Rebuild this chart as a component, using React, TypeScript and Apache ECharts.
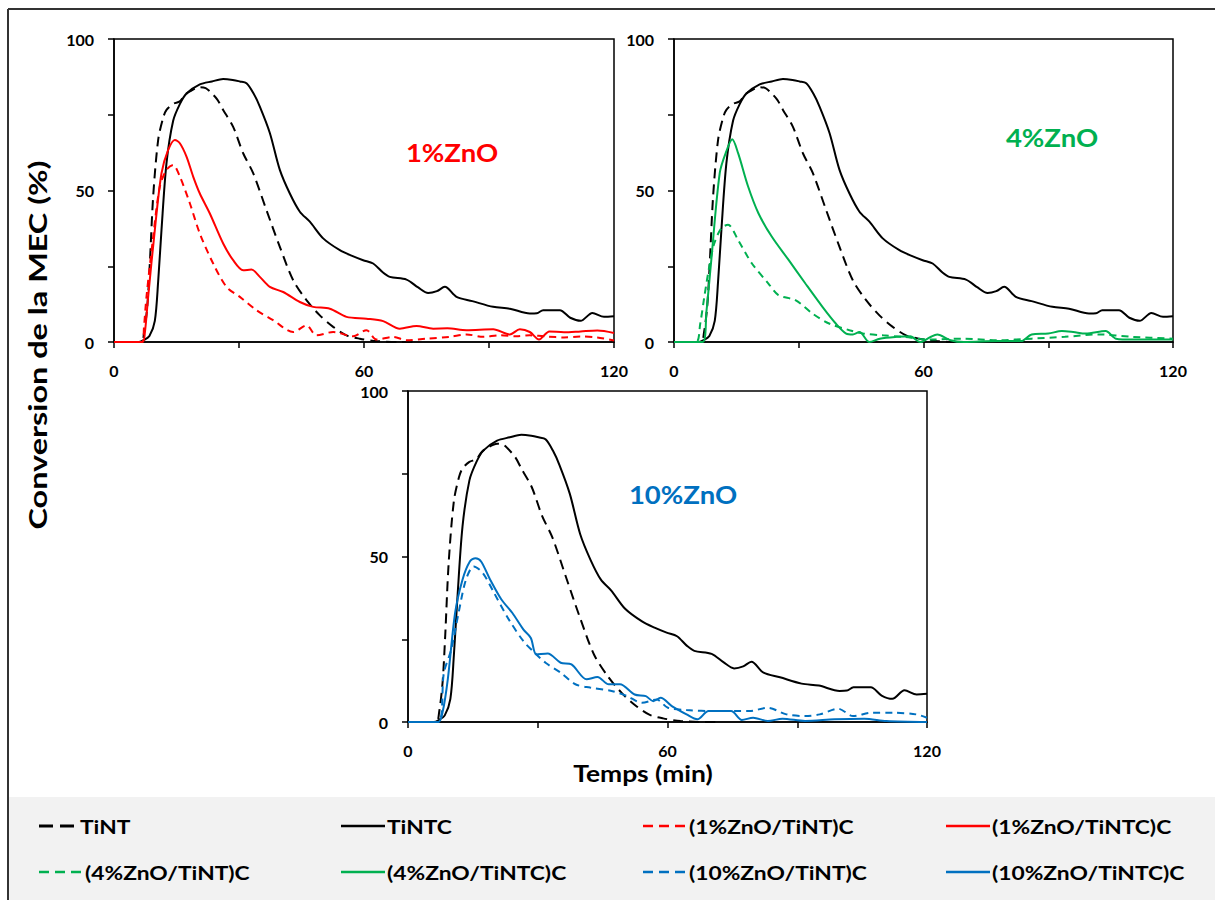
import React, { useEffect, useRef } from "react";
import * as echarts from "echarts";

type Pt = [number, number];

// Time (min) vs conversion (%)
const TINT: Pt[] = [[0,0],[6.5,0],[7.2,3],[8,12],[8.6,26],[9.4,48],[10.6,66.7],[11.8,74],[12.6,76.6],[14.2,78.6],[15.8,79.4],[17,81.5],[18.2,82.7],[20.6,84.1],[22,83.8],[23,82.7],[24.8,80],[26.2,76.6],[28.6,71],[31,62.3],[33.4,55.7],[36.6,43.5],[39.8,31.4],[43,20.4],[46.2,13.8],[49.4,8.8],[52.6,5],[55.8,2.2],[59,1.1],[63,0.3],[68.6,0],[72,0]];
const TINTC: Pt[] = [[0,0],[6,0],[7,0.5],[8.5,2],[9.8,7],[10.6,20],[11.4,37],[12.6,59],[14.2,73],[15.8,78.5],[17.4,82],[20.6,85],[23.5,86],[26.2,86.8],[28.5,86.5],[30.2,86],[31.8,85.4],[33.5,82],[35,77.7],[37.4,69],[39.8,56.8],[42.2,49],[44.6,43],[47,39.7],[50.2,34.2],[54.2,30.3],[57,28.5],[59.8,27],[62.2,25.9],[64.5,23],[66.2,21.5],[70.2,20.6],[73,18],[75.4,16.2],[77.5,16.8],[79.4,18.2],[82.2,14.9],[86,13.5],[91,11.6],[95,11],[99.8,9.4],[101.5,9.5],[103,10.5],[107,10.5],[109.5,8],[112,7],[114.8,9.6],[117.6,8.3],[120,8.5]];
const ZNO1_TINT: Pt[] = [[0,0],[6.8,0],[7.2,5],[7.8,15],[9.4,34.7],[11,51.3],[12.6,56.8],[14.2,58.4],[15.8,54.6],[18.2,45.8],[20.6,35.8],[23.8,25.9],[27,18.2],[30.2,14.9],[34.2,10.5],[38.2,7.2],[43,3.3],[46.2,5.5],[48.6,2.2],[52.6,3.3],[57.4,1.9],[60.6,3.9],[63,0.8],[67,1.7],[70.2,0.6],[75,1.1],[80.6,1.7],[84.6,2.5],[88.6,1.7],[92.6,2.2],[96.6,1.9],[99.8,2.2],[104,1.8],[108,1.5],[112,1.8],[116,1.5],[120,0.5]];
const ZNO1_TINTC: Pt[] = [[0,0],[6.8,0],[7.4,3],[8.2,15],[9.8,37],[11.4,55.7],[13,63.4],[14.6,66.7],[15.8,65.6],[17.4,61.2],[19,54.6],[20.6,49],[23,42.4],[26.2,32.5],[28.6,27],[31,23.7],[33,23.9],[35,21.5],[37.4,18.2],[40.6,16.5],[44.6,13.2],[47.8,11.6],[51.8,11],[55.8,8.3],[60.6,7.7],[64.6,6.9],[68.6,4.4],[72.6,5.3],[76.6,4.4],[80,4.5],[84.6,3.9],[91,4.2],[95,2.5],[97.4,4.2],[99.8,3.3],[102,0.8],[104.5,3.5],[108,3.2],[112,3.5],[116,3.8],[120,3]];
const ZNO4_TINT: Pt[] = [[0,0],[5.3,0],[6.3,6],[7.3,15],[8.5,25],[9.7,32.6],[11.4,37.6],[13,38.7],[15.4,33.7],[18.7,26],[22.7,19.3],[25.1,15.5],[29.2,13.8],[33.3,9.4],[37.3,6.1],[42.2,3.9],[45.4,2.8],[50.3,2.2],[55.1,1.7],[61.6,0.8],[69.7,1.1],[77.9,0.6],[86,1.1],[94,1.7],[102,2.5],[110.3,1.7],[120,1.1]];
const ZNO4_TINTC: Pt[] = [[0,0],[6.9,0],[7.8,10],[8.9,26],[11,55.8],[12.6,63],[14,66.9],[15.4,62.4],[17.8,51.4],[20.3,42.5],[23.5,34.8],[27.6,27],[31.6,19.3],[35.7,11.6],[38.9,6.1],[41.4,2.8],[43,2.5],[44.6,3.3],[47,0],[49.5,1.1],[53.5,1.7],[56.8,1.9],[59.2,0],[61.5,1.5],[63.3,2.5],[66.5,0.6],[69.7,0],[77.9,0.3],[83.5,0.3],[86,2.5],[90,2.8],[93.3,3.6],[96,3.3],[99,2.8],[103.8,3.6],[106.3,1.1],[110.3,0.8],[120,0.8]];
const ZNO10_TINT: Pt[] = [[0,0],[7,0],[8.3,14.9],[10,21.9],[11.7,33],[13.4,43],[15.2,47],[17.3,45],[19.9,39],[23.3,31],[26.7,24.4],[29.3,20.9],[31.8,17.9],[35.3,14.9],[38.7,11.4],[42.1,10.4],[47.3,9.3],[50.7,7.8],[54.1,5.8],[57.5,6.8],[60.1,4.3],[64.4,3.6],[71.2,3.3],[78.9,3.3],[83.2,4.3],[87.5,2.3],[91.8,1.8],[95.2,2.3],[99.5,4],[102.9,1.8],[107.2,2.8],[112.3,2.8],[117.5,2.3],[120,1.3]];
const ZNO10_TINTC: Pt[] = [[0,0],[7,0],[8,3],[9.2,12.9],[10.9,33],[12.6,43],[14.3,48.5],[15.6,49.5],[16.9,48.5],[19,43],[21.6,37],[24.1,33],[26.7,27.9],[28.4,25.4],[29.7,20.4],[32.3,20.7],[35.3,17.9],[37.8,17.4],[41.3,12.9],[43.8,13.6],[46.4,11.4],[49,11.4],[52.4,8.3],[55,7.8],[56.7,6.3],[58.4,7.3],[61,4.8],[64.4,2.3],[66.9,0.8],[69.5,3.3],[74.7,3.3],[77.2,0.6],[79.8,1.3],[83.2,0.3],[86.6,1],[91.8,0.3],[98.6,0.8],[105.5,1],[110.6,0.3],[120,0]];

const PANEL_LABELS = ["1%ZnO", "4%ZnO", "10%ZnO"];
const PANEL_COLORS = ["#ff0000", "#00b050", "#0070c0"];
const DASHED_NAMES = ["(1%ZnO/TiNT)C", "(4%ZnO/TiNT)C", "(10%ZnO/TiNT)C"];
const SOLID_NAMES = ["(1%ZnO/TiNTC)C", "(4%ZnO/TiNTC)C", "(10%ZnO/TiNTC)C"];
const DASHED_DATA = [ZNO1_TINT, ZNO4_TINT, ZNO10_TINT];
const SOLID_DATA = [ZNO1_TINTC, ZNO4_TINTC, ZNO10_TINTC];
const X_TICKS_SHOWN = [0, 60, 120];
const Y_TICKS_SHOWN = [0, 50, 100];
const Y_TITLE = "Conversion de la MEC (%)";
const X_TITLE = "Temps (min)";

const FONT = "Lato, 'Open Sans', sans-serif";

export default function App() {
  const ref = useRef<HTMLDivElement>(null);
  useEffect(() => {
    if (!ref.current) return;
    const chart = echarts.init(ref.current, null, { renderer: "svg" });

    const grids = [
      { left: 114, top: 39, width: 500, height: 303 },
      { left: 674, top: 39, width: 499, height: 303 },
      { left: 408, top: 391, width: 519, height: 331 },
    ];

    const axisCommon = {
      axisLine: { show: true, lineStyle: { color: "#000", width: 1.5 } },
      axisTick: { show: true, inside: false, length: 6, lineStyle: { color: "#000", width: 1.5 } },
      splitLine: { show: false },
    };

    const xAxes = grids.map((_, i) => ({
      type: "value",
      gridIndex: i,
      min: 0,
      max: 120,
      interval: 30,
      ...axisCommon,
      axisLabel: {
        margin: 20,
        fontFamily: FONT,
        fontWeight: "bold",
        fontSize: 16,
        color: "#000",
        formatter: (v: number) => (X_TICKS_SHOWN.includes(v) ? String(v) : ""),
      },
    }));

    const yAxes = grids.map((_, i) => ({
      type: "value",
      gridIndex: i,
      min: 0,
      max: 100,
      interval: 25,
      ...axisCommon,
      axisLabel: {
        margin: 20,
        fontFamily: FONT,
        fontWeight: "bold",
        fontSize: 16,
        color: "#000",
        formatter: (v: number) => (Y_TICKS_SHOWN.includes(v) ? String(v) : ""),
      },
    }));

    const series: any[] = [];
    for (let i = 0; i < 3; i++) {
      const common = {
        type: "line",
        xAxisIndex: i,
        yAxisIndex: i,
        showSymbol: false,
        symbol: "none",
        smooth: 0.3,
      };
      series.push({ ...common, name: "TiNT", data: TINT, color: "#000", lineStyle: { color: "#000", width: 2, type: [10, 6] } });
      series.push({ ...common, name: "TiNTC", data: TINTC, color: "#000", lineStyle: { color: "#000", width: 2, type: "solid" } });
      series.push({ ...common, name: DASHED_NAMES[i], data: DASHED_DATA[i], color: PANEL_COLORS[i], lineStyle: { color: PANEL_COLORS[i], width: 2, type: [7, 5] } });
      series.push({ ...common, name: SOLID_NAMES[i], data: SOLID_DATA[i], color: PANEL_COLORS[i], lineStyle: { color: PANEL_COLORS[i], width: 2, type: "solid" } });
    }

    // legend (drawn manually to match the original layout)
    const legendItems = [
      { name: "TiNT", color: "#000", dash: [14, 7] as number[] | null },
      { name: "TiNTC", color: "#000", dash: null },
      { name: DASHED_NAMES[0], color: PANEL_COLORS[0], dash: [10, 6] },
      { name: SOLID_NAMES[0], color: PANEL_COLORS[0], dash: null },
      { name: DASHED_NAMES[1], color: PANEL_COLORS[1], dash: [10, 6] },
      { name: SOLID_NAMES[1], color: PANEL_COLORS[1], dash: null },
      { name: DASHED_NAMES[2], color: PANEL_COLORS[2], dash: [10, 6] },
      { name: SOLID_NAMES[2], color: PANEL_COLORS[2], dash: null },
    ];
    const legendCols = [39, 341, 643, 946];
    const legendRows = [826, 872];
    const legendGraphics: any[] = [];
    legendItems.forEach((it, k) => {
      const r = Math.floor(k / 4);
      const c = k % 4;
      const x0 = legendCols[c];
      const y0 = legendRows[r];
      const w = k === 0 ? 35 : 44;
      legendGraphics.push({
        type: "line",
        silent: true,
        shape: { x1: x0, y1: y0, x2: x0 + w, y2: y0 },
        style: { stroke: it.color, lineWidth: k === 0 ? 3 : 2.5, lineDash: it.dash || undefined },
      });
      legendGraphics.push({
        type: "text",
        x: x0 + w + (k === 0 ? 6 : 2),
        y: y0,
        scaleX: 1.2,
        style: {
          text: it.name,
          fill: "#000",
          font: `bold 19px ${FONT}`,
          align: "left",
          verticalAlign: "middle",
        },
      });
    });

    const annPos = [
      [452, 152],
      [1052, 137],
      [683, 494],
    ];

    chart.setOption({
      animation: false,
      backgroundColor: "#fff",
      grid: grids.map((g) => ({ ...g, show: true, borderColor: "#000", borderWidth: 1.5, backgroundColor: "transparent", containLabel: false })),
      xAxis: xAxes,
      yAxis: yAxes,
      series,
      graphic: [
        { type: "rect", z: -10, silent: true, shape: { x: 9, y: 797, width: 1206, height: 103 }, style: { fill: "#f2f2f2" } },
        { type: "line", silent: true, shape: { x1: 8, y1: 9, x2: 1215, y2: 9 }, style: { stroke: "#333", lineWidth: 2 } },
        { type: "line", silent: true, shape: { x1: 8, y1: 9, x2: 8, y2: 900 }, style: { stroke: "#333", lineWidth: 2 } },
        {
          type: "text",
          x: 38,
          y: 345,
          rotation: Math.PI / 2,
          scaleX: 1.35,
          style: {
            text: Y_TITLE,
            fill: "#000",
            font: `bold 24px ${FONT}`,
            align: "center",
            verticalAlign: "middle",
          },
        },
        {
          type: "text",
          x: 643,
          y: 773,
          scaleX: 1.2,
          style: {
            text: X_TITLE,
            fill: "#000",
            font: `bold 22px ${FONT}`,
            align: "center",
            verticalAlign: "middle",
          },
        },
        ...PANEL_LABELS.map((t, i) => ({
          type: "text",
          x: annPos[i][0],
          y: annPos[i][1],
          scaleX: 1.1,
          style: {
            text: t,
            fill: PANEL_COLORS[i],
            font: `bold 25px ${FONT}`,
            align: "center",
            verticalAlign: "middle",
          },
        })),
        ...legendGraphics,
      ],
    });
    return () => chart.dispose();
  }, []);
  return <div ref={ref} style={{ position: "absolute", left: 0, top: 0, width: 1215, height: 900 }} />;
}
